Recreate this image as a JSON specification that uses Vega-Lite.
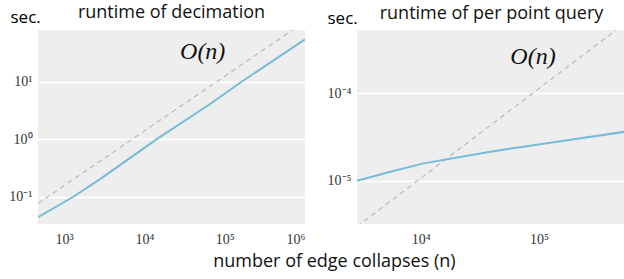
{
  "$schema": "https://vega.github.io/schema/vega-lite/v6.json",
  "padding": {"left": 8, "right": 0, "top": 3, "bottom": 0},
  "background": "white",
  "datasets": {
    "decim": [
      {"n": 475, "t": 0.0448},
      {"n": 1294, "t": 0.1},
      {"n": 2904, "t": 0.21},
      {"n": 14300, "t": 1.01},
      {"n": 63200, "t": 3.94},
      {"n": 162600, "t": 10},
      {"n": 1000000, "t": 54.3}
    ],
    "decimRef": [
      {"n": 475, "t": 0.0775},
      {"n": 1000000, "t": 111}
    ],
    "decimLabel": [{"n": 53300, "t": 32.8, "label": "O(n)"}],
    "query": [
      {"n": 2900, "t": 1.0e-5},
      {"n": 5550, "t": 1.27e-5},
      {"n": 10600, "t": 1.58e-5},
      {"n": 38800, "t": 2.15e-5},
      {"n": 142000, "t": 2.79e-5},
      {"n": 543000, "t": 3.65e-5}
    ],
    "queryRef": [
      {"n": 2900, "t": 2.99e-6},
      {"n": 543000, "t": 6.47e-4}
    ],
    "queryLabel": [{"n": 89000, "t": 2.57e-4, "label": "O(n)"}]
  },
  "title": {
    "text": "number of edge collapses (n)",
    "orient": "bottom",
    "anchor": "middle",
    "font": "Open Sans",
    "fontSize": 18,
    "fontWeight": "normal",
    "color": "#111",
    "offset": 7,
    "dx": 17
  },
  "spacing": 52,
  "bounds": "flush",
  "config": {
    "view": {"fill": "#eeeeee", "stroke": null},
    "axis": {
      "domain": false,
      "ticks": false,
      "labelFont": "Liberation Serif",
      "labelFontSize": 14,
      "labelColor": "#333333",
      "gridColor": "white",
      "gridWidth": 1.5,
      "gridOpacity": 1
    },
    "title": {"font": "Open Sans", "fontSize": 18, "fontWeight": "normal", "color": "#111"}
  },
  "hconcat": [
    {
      "width": 267,
      "height": 194,
      "title": {"text": "runtime of decimation", "offset": -13},
      "layer": [
        {
          "data": {"name": "decimRef"},
          "mark": {"type": "line", "clip": true, "color": "#bbbbbb", "strokeWidth": 1.2, "strokeDash": [5, 4]},
          "encoding": {
            "x": {"field": "n", "type": "quantitative", "scale": {"type": "log", "domain": [475, 1000000], "nice": false},
              "axis": {"values": [1000, 10000, 100000, 1000000], "grid": false, "title": null, "labelPadding": 8,
                "labelExpr": "'10' + (datum.value < 1 ? '⁻' : '') + ['⁰','¹','²','³','⁴','⁵','⁶'][abs(round(log(datum.value)/LN10))]"}},
            "y": {"field": "t", "type": "quantitative", "scale": {"type": "log", "domain": [0.034, 79], "nice": false},
              "axis": {"values": [0.1, 1, 10], "grid": true, "labelPadding": 6,
                "title": "sec.", "titleAngle": 0, "titleAlign": "left", "titleBaseline": "alphabetic", "titleX": -28, "titleY": -7.5,
                "titleFont": "Open Sans", "titleFontSize": 17, "titleFontWeight": "normal",
                "labelExpr": "'10' + (datum.value < 1 ? '⁻' : '') + ['⁰','¹','²','³','⁴','⁵','⁶'][abs(round(log(datum.value)/LN10))]"}}
          }
        },
        {
          "data": {"name": "decim"},
          "mark": {"type": "line", "clip": true, "color": "#76bbd7", "strokeWidth": 2},
          "encoding": {
            "x": {"field": "n", "type": "quantitative"},
            "y": {"field": "t", "type": "quantitative"}
          }
        },
        {
          "data": {"name": "decimLabel"},
          "mark": {"type": "text", "font": "Liberation Serif", "fontStyle": "italic", "fontSize": 24, "color": "#111", "align": "center", "baseline": "middle"},
          "encoding": {
            "x": {"field": "n", "type": "quantitative"},
            "y": {"field": "t", "type": "quantitative"},
            "text": {"field": "label"}
          }
        }
      ]
    },
    {
      "width": 269,
      "height": 194,
      "title": {"text": "runtime of per point query", "offset": -13},
      "layer": [
        {
          "data": {"name": "queryRef"},
          "mark": {"type": "line", "clip": true, "color": "#bbbbbb", "strokeWidth": 1.2, "strokeDash": [5, 4]},
          "encoding": {
            "x": {"field": "n", "type": "quantitative", "scale": {"type": "log", "domain": [2900, 543000], "nice": false},
              "axis": {"values": [10000, 100000], "grid": false, "title": null, "labelPadding": 8,
                "labelExpr": "'10' + (datum.value < 1 ? '⁻' : '') + ['⁰','¹','²','³','⁴','⁵','⁶'][abs(round(log(datum.value)/LN10))]"}},
            "y": {"field": "t", "type": "quantitative", "scale": {"type": "log", "domain": [3.2e-6, 5.3e-4], "nice": false},
              "axis": {"values": [0.00001, 0.0001], "grid": true, "labelPadding": 6,
                "title": "sec.", "titleAngle": 0, "titleAlign": "left", "titleBaseline": "alphabetic", "titleX": -30, "titleY": -6.5,
                "titleFont": "Open Sans", "titleFontSize": 17, "titleFontWeight": "normal",
                "labelExpr": "'10' + (datum.value < 1 ? '⁻' : '') + ['⁰','¹','²','³','⁴','⁵','⁶'][abs(round(log(datum.value)/LN10))]"}}
          }
        },
        {
          "data": {"name": "query"},
          "mark": {"type": "line", "clip": true, "color": "#76bbd7", "strokeWidth": 2},
          "encoding": {
            "x": {"field": "n", "type": "quantitative"},
            "y": {"field": "t", "type": "quantitative"}
          }
        },
        {
          "data": {"name": "queryLabel"},
          "mark": {"type": "text", "font": "Liberation Serif", "fontStyle": "italic", "fontSize": 24, "color": "#111", "align": "center", "baseline": "middle"},
          "encoding": {
            "x": {"field": "n", "type": "quantitative"},
            "y": {"field": "t", "type": "quantitative"},
            "text": {"field": "label"}
          }
        }
      ]
    }
  ]
}
